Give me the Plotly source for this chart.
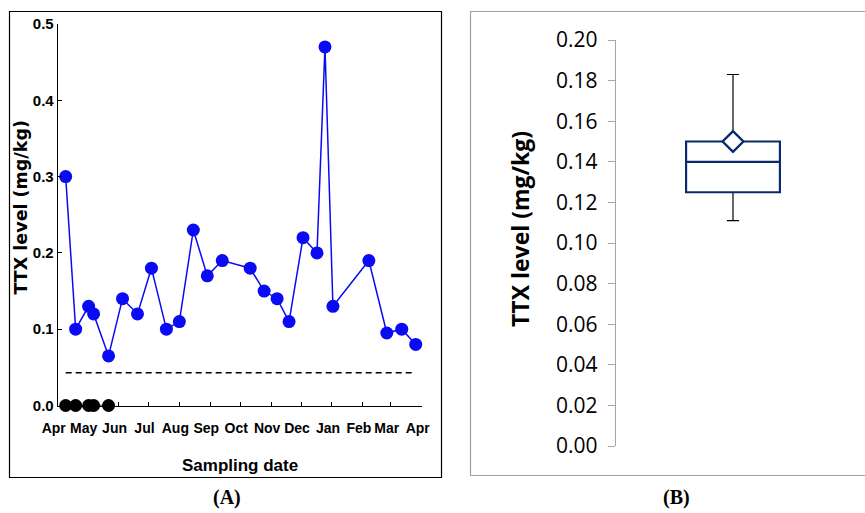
import plotly.graph_objects as go

# ---- Data (panel A) ----
sample_dates = ["2016-04-09", "2016-04-19", "2016-05-02", "2016-05-07", "2016-05-22",
                "2016-06-05", "2016-06-20", "2016-07-04", "2016-07-19", "2016-08-01",
                "2016-08-15", "2016-08-29", "2016-09-13", "2016-10-11", "2016-10-25",
                "2016-11-07", "2016-11-19", "2016-12-03", "2016-12-17", "2016-12-25",
                "2017-01-02", "2017-02-07", "2017-02-25", "2017-03-12", "2017-03-26"]
ttx_levels = [0.30, 0.10, 0.13, 0.12, 0.065, 0.14, 0.12, 0.18, 0.10, 0.11,
              0.23, 0.17, 0.19, 0.18, 0.15, 0.14, 0.11, 0.22, 0.20, 0.47,
              0.13, 0.19, 0.095, 0.10, 0.08]
nd_dates = ["2016-04-09", "2016-04-19", "2016-05-02", "2016-05-07", "2016-05-22"]
nd_levels = [0, 0, 0, 0, 0]
detection_limit = 0.043

# ---- Data (panel B) box statistics ----
box_q1 = [0.125]
box_median = [0.14]
box_q3 = [0.15]
box_low = [0.111]
box_high = [0.183]
box_mean = [0.15]

navy = "#0B2A6B"
blue = "#0A0AF5"
sans = "Liberation Sans, Arial, sans-serif"

fig = go.Figure()

# Panel A traces
fig.add_trace(go.Scatter(
    x=sample_dates, y=ttx_levels, mode="lines+markers",
    line=dict(color=blue, width=1.5),
    marker=dict(color=blue, size=13),
    cliponaxis=False, showlegend=False, xaxis="x", yaxis="y"))
fig.add_trace(go.Scatter(
    x=nd_dates, y=nd_levels, mode="lines+markers",
    line=dict(color="black", width=1.5),
    marker=dict(color="black", size=13),
    cliponaxis=False, showlegend=False, xaxis="x", yaxis="y"))
fig.add_trace(go.Scatter(
    x=[sample_dates[0], sample_dates[-1]], y=[detection_limit, detection_limit],
    mode="lines", line=dict(color="black", width=1.5, dash="6px,4px"),
    showlegend=False, xaxis="x", yaxis="y"))

# Panel B traces: whiskers (black) then box (navy)
fig.add_trace(go.Box(
    x=[0], q1=box_q1, median=box_median, q3=box_q3,
    lowerfence=box_low, upperfence=box_high,
    width=0.4, whiskerwidth=0.13, fillcolor="white",
    line=dict(color="black", width=1.2),
    boxpoints=False, showlegend=False, xaxis="x2", yaxis="y2"))
fig.add_trace(go.Box(
    x=[0], q1=box_q1, median=box_median, q3=box_q3,
    lowerfence=box_q1, upperfence=box_q3,
    width=0.4, whiskerwidth=0, fillcolor="white",
    line=dict(color=navy, width=2.2),
    boxpoints=False, showlegend=False, xaxis="x2", yaxis="y2"))
fig.add_trace(go.Scatter(
    x=[0], y=box_mean, mode="markers",
    marker=dict(symbol="diamond", size=16, color="white",
                line=dict(color=navy, width=2.4)),
    showlegend=False, xaxis="x2", yaxis="y2"))

W, H = 865, 513

def px(x):
    return x / W

def py(y):
    return 1 - y / H

fig.update_layout(
    width=W, height=H,
    margin=dict(l=0, r=0, t=0, b=0, autoexpand=False),
    paper_bgcolor="white", plot_bgcolor="white",
    xaxis=dict(
        domain=[px(57.7), px(421.7)], anchor="y", automargin=False,
        type="date", range=["2016-04-01", "2017-04-01"],
        tick0="2016-04-01", dtick="M1", tickformat="%b", tickangle=0,
        ticks="inside", ticklen=4, tickcolor="black",
        showline=True, linecolor="black", linewidth=1,
        showgrid=False, zeroline=False,
        ticklabelshift=-4, ticklabelstandoff=10,
        tickfont=dict(family=sans, size=14, color="black", weight="bold")),
    yaxis=dict(
        domain=[py(405.5), py(24)], anchor="x", automargin=False,
        range=[0, 0.5], dtick=0.1, tickformat=".1f",
        ticks="inside", ticklen=4, tickcolor="black",
        showline=True, linecolor="black", linewidth=1,
        showgrid=False, zeroline=False,
        ticklabelstandoff=0,
        tickfont=dict(family=sans, size=15, color="black", weight="bold")),
    xaxis2=dict(
        domain=[px(615.7), px(850.3)], anchor="y2", automargin=False,
        range=[-0.5, 0.5], visible=False),
    yaxis2=dict(
        domain=[py(446), py(40)], anchor="x2", automargin=False,
        range=[0, 0.2], dtick=0.02, tickformat=".2f",
        ticks="outside", ticklen=7, tickcolor="#A6A6A6",
        showline=True, linecolor="#A6A6A6", linewidth=1,
        showgrid=False, zeroline=False,
        ticklabelstandoff=6,
        tickfont=dict(family="Open Sans, sans-serif", size=21, color="black")),
    shapes=[
        dict(type="rect", xref="paper", yref="paper",
             x0=px(9.5), x1=px(441.5), y0=py(477.5), y1=py(11.5),
             line=dict(color="black", width=1.2)),
        dict(type="rect", xref="paper", yref="paper",
             x0=px(470.5), x1=px(870), y0=py(475.5), y1=py(11.5),
             line=dict(color="#A0A0A0", width=1.2)),
    ],
    annotations=[
        dict(text="TTX level (mg/kg)", xref="paper", yref="paper",
             x=px(20.5), y=py(208), textangle=-90, showarrow=False,
             xanchor="center", yanchor="middle",
             font=dict(family="DejaVu Sans, sans-serif", size=17.5, color="black", weight="bold")),
        dict(text="Sampling date", xref="paper", yref="paper",
             x=px(239.7), y=py(465), showarrow=False,
             xanchor="center", yanchor="middle",
             font=dict(family=sans, size=17, color="black", weight="bold")),
        dict(text="TTX level (mg/kg)", xref="paper", yref="paper",
             x=px(520), y=py(229), textangle=-90, showarrow=False,
             xanchor="center", yanchor="middle",
             font=dict(family="Open Sans, sans-serif", size=23, color="black", weight="bold")),
        dict(text="(A)", xref="paper", yref="paper",
             x=px(227), y=py(497), showarrow=False,
             xanchor="center", yanchor="middle",
             font=dict(family="Liberation Serif, serif", size=20, color="black", weight="bold")),
        dict(text="(B)", xref="paper", yref="paper",
             x=px(676), y=py(497), showarrow=False,
             xanchor="center", yanchor="middle",
             font=dict(family="Liberation Serif, serif", size=20, color="black", weight="bold")),
    ],
)

fig.write_html(
    "out.html",
    config={"displayModeBar": False},
    post_script="document.body.style.margin='0';document.body.style.padding='0';",
)
